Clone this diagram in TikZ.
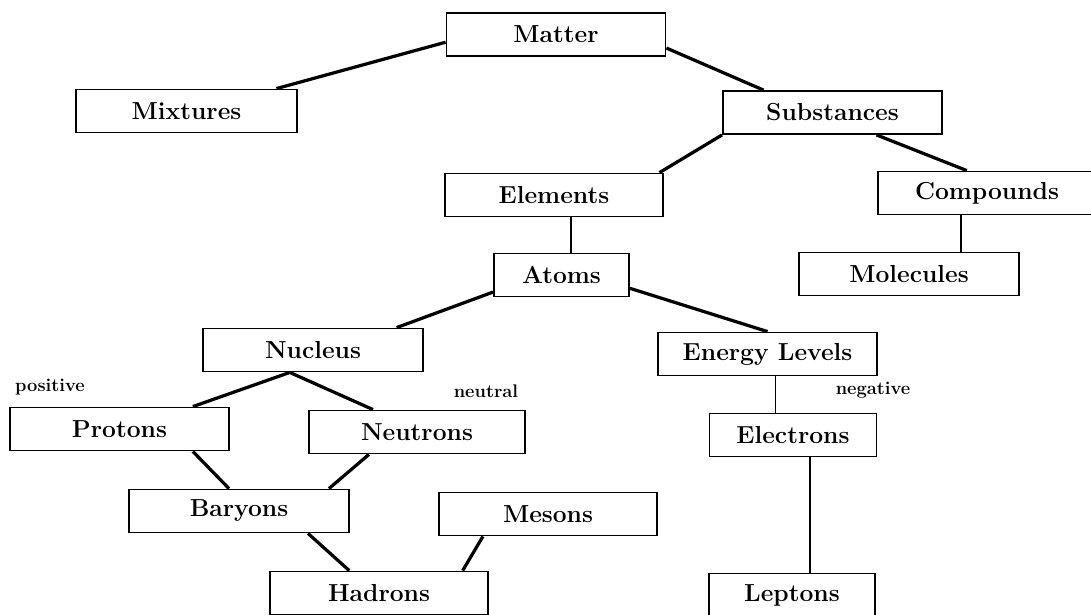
\documentclass[tikz,border=0pt]{standalone}
\usepackage{tikz}

\begin{document}
\begin{tikzpicture}[x=0.025cm, y=-0.025cm,
  box/.style = {draw, line width=1.3pt, inner sep=0pt, minimum height=1.075cm, font=\fontsize{17.5}{20}\selectfont\bfseries},
  link/.style = {line width=2.3pt},
  stem/.style = {line width=1.4pt},
  charge/.style = {font=\fontsize{13}{15}\selectfont\bfseries}]
\useasboundingbox (0,0) rectangle (1091,614);
% boxes
\node[box, minimum width=5.475cm] (matter) at (556,34.5) {Matter};
\node[box, minimum width=5.525cm] (mixtures) at (186.5,111) {Mixtures};
\node[box, minimum width=5.475cm] (substances) at (832.5,112.5) {Substances};
\node[box, minimum width=5.45cm] (elements) at (554,195) {Elements};
\node[box, minimum width=5.45cm] (compounds) at (987,193) {Compounds};
\node[box, minimum width=3.375cm] (atoms) at (561.5,275) {Atoms};
\node[box, minimum width=5.5cm] (molecules) at (909,274) {Molecules};
\node[box, minimum width=5.5cm] (nucleus) at (313,350) {Nucleus};
\node[box, minimum width=5.475cm] (energy) at (767.5,354) {Energy Levels};
\node[box, minimum width=5.475cm] (protons) at (119.5,429) {Protons};
\node[box, minimum width=5.4cm] (neutrons) at (417,432) {Neutrons};
\node[box, minimum width=4.175cm] (electrons) at (793,435) {Electrons};
\node[box, minimum width=5.5cm] (baryons) at (239,511) {Baryons};
\node[box, minimum width=5.45cm] (mesons) at (548,514) {Mesons};
\node[box, minimum width=5.45cm] (hadrons) at (379,593) {Hadrons};
\node[box, minimum width=4.15cm] (leptons) at (792,595) {Leptons};
% charges
\node[charge] (pos) at (50,387) {positive};
\node[charge] (neu) at (486,391) {neutral};
\node[charge] (neg) at (873,390) {negative};
% links
\draw[link] (matter.184) -- (mixtures.14);
\draw[link] (matter.353) -- (substances.162);
\draw[link] (substances.south west) -- (elements.12);
\draw[link] (substances.333) -- (compounds.132);
\draw[stem] ([xshift=-0.65cm]compounds.south) -- ([xshift=-0.65cm]compounds.south |- molecules.north);
\draw[stem] ([xshift=0.425cm]elements.south) -- ([xshift=0.425cm]elements.south |- atoms.north);
\draw[link] (atoms.194) -- (nucleus.15);
\draw[link] (atoms.349) -- (energy.north);
\draw[link] (nucleus.224) -- (protons.17);
\draw[link] (nucleus.224) -- (neutrons.153);
\draw[link] (protons.343) -- (baryons.114);
\draw[link] (neutrons.205) -- (baryons.14);
\draw[link] (baryons.342) -- (hadrons.143);
\draw[link] (mesons.199) -- (hadrons.15);
\draw[stem] ([xshift=0.2cm]energy.south) -- ([xshift=0.2cm]energy.south |- electrons.north);
\draw[stem] ([xshift=0.425cm]electrons.south) -- ([xshift=0.425cm]electrons.south |- leptons.north);
\end{tikzpicture}
\end{document}
